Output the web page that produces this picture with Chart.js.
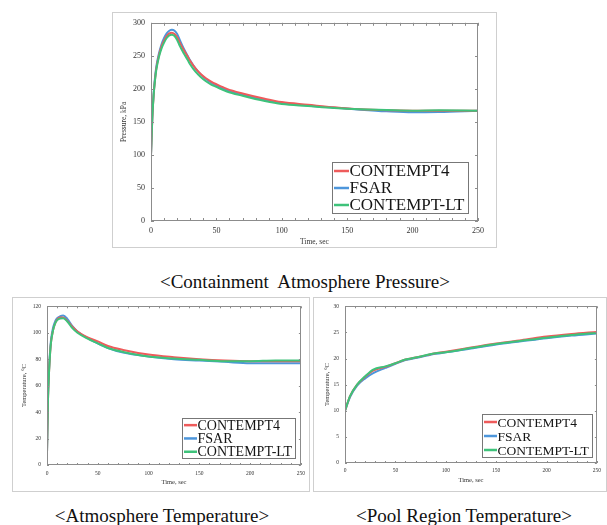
<!DOCTYPE html>
<html>
<head>
<meta charset="utf-8">
<script src="https://cdn.jsdelivr.net/npm/chart.js@4.4.1/dist/chart.umd.min.js"></script>
<style>
  body { margin: 0; background: #fff; width: 607px; height: 525px; position: relative; overflow: hidden; }
  .frame { position: absolute; border: 1px solid #cfcfcf; box-sizing: border-box; }
  canvas { position: absolute; }
  .cap { position: absolute; font-family: "Liberation Serif", "Times New Roman", "DejaVu Serif", serif; font-size: 19px; line-height: 19px; color: #111; text-align: center; white-space: nowrap; }
</style>
</head>
<body>
<div class="frame" style="left:112px;top:12px;width:385px;height:236px"></div>
<div class="frame" style="left:12px;top:297px;width:298px;height:195px"></div>
<div class="frame" style="left:313px;top:297px;width:294px;height:195px"></div>
<canvas id="press" style="left:112px;top:12px" width="385" height="236"></canvas>
<canvas id="atm" style="left:12px;top:297px" width="298" height="195"></canvas>
<canvas id="pool" style="left:313px;top:297px" width="292" height="195"></canvas>
<div class="cap" style="left:105px;top:272px;width:400px">&lt;Containment&nbsp; Atmosphere Pressure&gt;</div>
<div class="cap" style="left:12px;top:506px;width:300px">&lt;Atmosphere Temperature&gt;</div>
<div class="cap" style="left:314px;top:506px;width:300px">&lt;Pool Region Temperature&gt;</div>
<script>
// series names and colours
var names = ['CONTEMPT4', 'FSAR', 'CONTEMPT-LT'];
var colors = ['#ee5b5b', '#4d96db', '#3ec27a'];

// containment atmosphere pressure, kPa
var pressT    = [0, 1, 2, 3, 4, 6, 8, 10, 12, 14, 16, 18, 20, 22, 25, 28, 30, 34, 38, 42, 46, 50, 58, 70, 87, 100, 120, 140, 160, 180, 200, 220, 250];
var pressC4   = [100, 155, 190, 213, 230, 250, 264, 273, 280, 284, 285, 283, 278, 270, 259, 249, 242, 231, 222.5, 216, 211, 207, 200, 193, 185, 180, 176, 172, 169, 167.5, 167, 167, 167];
var pressFSAR = [100, 158, 193, 216, 233, 253, 267, 277, 284, 288, 289.5, 288, 283, 274, 261, 250, 243, 231, 222, 215, 209.5, 205.5, 198, 191, 183, 178.5, 174.5, 171.5, 168.5, 166, 164.5, 165, 167];
var pressLT   = [100, 156, 190, 212, 228, 248, 261, 270, 277, 281, 282, 280, 274, 265, 254, 244, 237, 226, 218, 211.5, 206.5, 203, 196, 189.5, 181.5, 177, 174, 171, 169, 168, 167, 167.5, 167];

// atmosphere temperature, C
var atmT    = [0, 1, 2, 3, 4, 6, 8, 10, 13, 16, 20, 25, 30, 40, 50, 60, 75, 100, 125, 150, 175, 200, 225, 250];
var atmC4   = [9, 50, 70, 84, 93, 102, 107, 110, 111.5, 111.5, 109, 104.5, 101, 96.5, 93.5, 90, 87, 83.5, 81.5, 80, 79, 78.5, 78.5, 78.5];
var atmFSAR = [9, 52, 72, 86, 95, 104, 108.5, 111, 112.5, 113, 110.5, 105, 101, 96, 92, 88.5, 85, 82, 80, 79, 78, 77, 77, 77];
var atmLT   = [9, 50, 70, 84, 93, 102, 107, 109.5, 110.8, 111, 108.5, 103.5, 100, 95.5, 92, 88.5, 85.5, 82, 80.5, 79.5, 78.5, 78.5, 79, 79];

// pool region temperature, C
var poolT    = [0, 5, 12, 20, 28, 40, 50, 60, 75, 90, 100, 125, 150, 175, 200, 225, 250];
var poolC4   = [10, 12.8, 15, 16.5, 17.7, 18.4, 19.1, 19.8, 20.4, 21, 21.3, 22.1, 22.9, 23.5, 24.2, 24.7, 25.1];
var poolFSAR = [10, 12.6, 14.8, 16.2, 17.2, 18.2, 19, 19.7, 20.3, 20.9, 21.2, 21.9, 22.7, 23.3, 23.9, 24.4, 24.8];
var poolLT   = [10, 12.8, 15, 16.6, 17.9, 18.5, 19.1, 19.8, 20.4, 21, 21.2, 22, 22.8, 23.4, 24, 24.5, 24.9];

var serif = '"Liberation Serif", "DejaVu Serif", serif';

function pts(t, v) {
    return t.map(function (x, i) { return {x: x, y: v[i]}; });
}

// plot box, inward tick marks and the boxed legend
var framePlugin = {
    id: 'frame',
    afterDatasetsDraw: function (chart, args, o) {
        var ctx = chart.ctx, a = chart.chartArea, x = chart.scales.x, y = chart.scales.y;
        ctx.save();
        ctx.strokeStyle = '#8c8c8c';
        ctx.lineWidth = 1;
        ctx.strokeRect(Math.round(a.left) + 0.5, Math.round(a.top) + 0.5, Math.round(a.width) - 1, Math.round(a.height) - 1);
        ctx.beginPath();
        for (var v = x.min; v <= x.max; v += o.xMinor) {
            var px = Math.round(x.getPixelForValue(v)) + 0.5;
            ctx.moveTo(px, a.bottom); ctx.lineTo(px, a.bottom - o.tick);
            ctx.moveTo(px, a.top); ctx.lineTo(px, a.top + o.tick);
        }
        for (var w = y.min; w <= y.max; w += o.yStep) {
            var py = Math.round(y.getPixelForValue(w)) + 0.5;
            ctx.moveTo(a.left, py); ctx.lineTo(a.left + o.tick, py);
            ctx.moveTo(a.right, py); ctx.lineTo(a.right - o.tick, py);
        }
        ctx.stroke();

        var L = o.legend;
        var x0 = Math.round(a.right - L.right - L.w) + 0.5;
        var y0 = Math.round(a.bottom - L.bottom - L.h) + 0.5;
        ctx.fillStyle = '#fff';
        ctx.fillRect(x0, y0, L.w, L.h);
        ctx.strokeStyle = '#777';
        ctx.strokeRect(x0, y0, L.w, L.h);
        ctx.font = L.size + 'px ' + serif;
        ctx.textBaseline = 'middle';
        for (var i = 0; i < names.length; i++) {
            var cy = y0 + L.pad + L.row * (i + 0.5);
            ctx.strokeStyle = colors[i];
            ctx.lineWidth = 2.5;
            ctx.beginPath();
            ctx.moveTo(x0 + 1.5, cy); ctx.lineTo(x0 + 1.5 + L.line, cy);
            ctx.stroke();
            ctx.fillStyle = '#151515';
            ctx.fillText(names[i], x0 + 2 + L.line, cy + 1);
        }
        ctx.restore();
    }
};

function makeChart(id, t, series, c) {
    return new Chart(document.getElementById(id), {
        type: 'line',
        data: {
            datasets: series.map(function (s, i) {
                return {
                    label: names[i],
                    data: pts(t, s),
                    borderColor: colors[i],
                    borderWidth: 2,
                    pointRadius: 0,
                    cubicInterpolationMode: 'monotone',
                    order: [1, 2, 0][i]
                };
            })
        },
        options: {
            responsive: false,
            animation: false,
            events: [],
            layout: {padding: c.pad, autoPadding: false},
            plugins: {legend: {display: false}, tooltip: {enabled: false}, frame: c.frame},
            scales: {
                x: {
                    type: 'linear', min: 0, max: 250,
                    grid: {display: false, drawTicks: false},
                    border: {display: false},
                    ticks: {stepSize: 50, padding: c.xPad, color: '#333', font: {family: serif, size: c.tickSize}, maxRotation: 0},
                    title: {display: true, text: 'Time, sec', color: '#333', font: {family: serif, size: c.titleSize}, padding: {top: 0, bottom: c.xTitlePad}},
                    afterFit: function (s) { s.height = c.xH; }
                },
                y: {
                    min: c.yMin, max: c.yMax,
                    grid: {display: false, drawTicks: false},
                    border: {display: false},
                    ticks: {stepSize: c.yStep, padding: c.yPad, color: '#333', font: {family: serif, size: c.tickSize}},
                    title: {display: true, text: c.yTitle, color: '#333', font: {family: serif, size: c.titleSize}, padding: {top: c.yTitlePad, bottom: 0}},
                    afterFit: function (s) { s.width = c.yW; }
                }
            }
        },
        plugins: [framePlugin]
    });
}

makeChart('press', pressT, [pressC4, pressFSAR, pressLT], {
    pad: {top: 6, right: 19, left: 0, bottom: 0},
    yW: 39, xH: 27, yMin: 0, yMax: 300, yStep: 50,
    tickSize: 8, titleSize: 7.5, xPad: 5, yPad: 6, xTitlePad: 1.5, yTitlePad: 8,
    yTitle: 'Pressure, kPa',
    frame: {xMinor: 10, yStep: 50, tick: 3,
        legend: {right: 10, bottom: 8, w: 136, h: 51, pad: 0, row: 17, size: 17, line: 15}}
});

makeChart('atm', atmT, [atmC4, atmFSAR, atmLT], {
    pad: {top: 8, right: 6, left: 0, bottom: 0},
    yW: 35, xH: 27, yMin: 0, yMax: 120, yStep: 20,
    tickSize: 5.5, titleSize: 6.5, xPad: 5, yPad: 6, xTitlePad: 6, yTitlePad: 8,
    yTitle: 'Temperature, \u00B0C',
    frame: {xMinor: 10, yStep: 20, tick: 2,
        legend: {right: 6, bottom: 7, w: 113, h: 40, pad: 0, row: 13.3, size: 14, line: 13}}
});

makeChart('pool', poolT, [poolC4, poolFSAR, poolLT], {
    pad: {top: 6, right: 2, left: 0, bottom: 0},
    yW: 32, xH: 29, yMin: 0, yMax: 30, yStep: 5,
    tickSize: 5.5, titleSize: 6.5, xPad: 4, yPad: 6, xTitlePad: 8, yTitlePad: 10,
    yTitle: 'Temperature, \u00B0C',
    frame: {xMinor: 10, yStep: 5, tick: 2,
        legend: {right: 5, bottom: 6, w: 110, h: 43, pad: 0.5, row: 14, size: 13.5, line: 13}}
});
</script>
</body>
</html>
